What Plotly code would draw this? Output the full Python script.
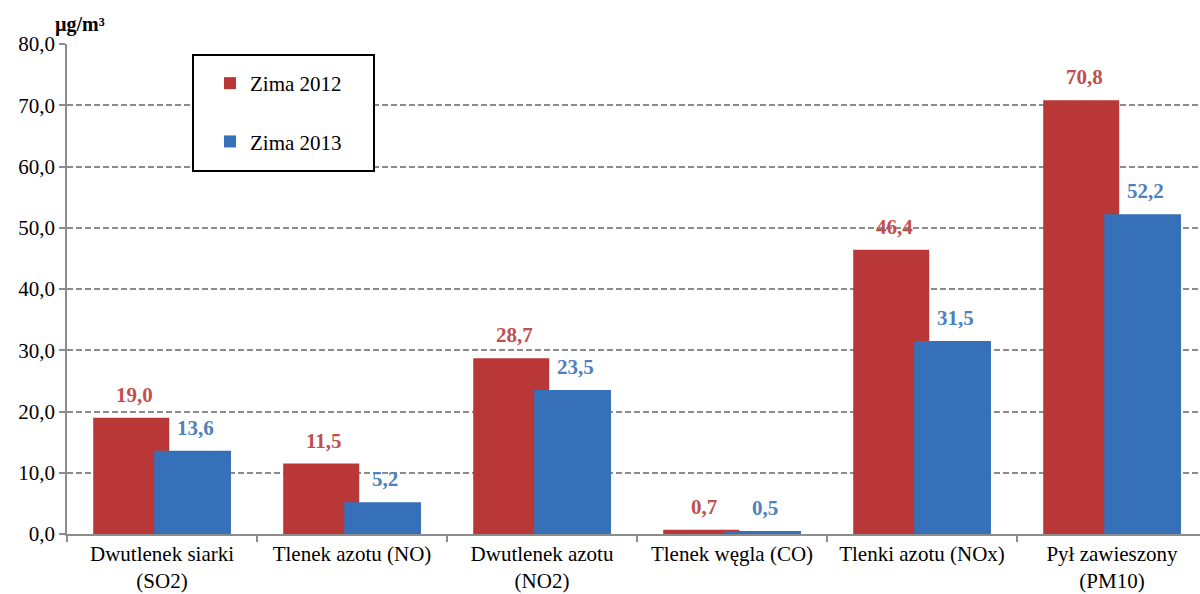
import plotly.graph_objects as go

# Average winter concentrations of pollutants, ug/m3
categories = [
    "Dwutlenek siarki<br>(SO2)",
    "Tlenek azotu (NO)",
    "Dwutlenek azotu<br>(NO2)",
    "Tlenek węgla (CO)",
    "Tlenki azotu (NOx)",
    "Pył zawieszony<br>(PM10)",
]
zima_2012 = [19.0, 11.5, 28.7, 0.7, 46.4, 70.8]
zima_2013 = [13.6, 5.2, 23.5, 0.5, 31.5, 52.2]
series_names = ["Zima 2012", "Zima 2013"]
y_ticks = [0, 10, 20, 30, 40, 50, 60, 70, 80]

FONT = "Liberation Serif"
RED_BAR = "#B93736"
BLUE_BAR = "#3570B8"
RED_TXT = "#C0504D"
BLUE_TXT = "#4F81BD"

W, H = 1200, 594
L, R, T, B = 67, 0, 44, 60

fig = go.Figure()
fig.add_trace(go.Bar(
    x=categories, y=zima_2012, name=series_names[0],
    marker=dict(color=RED_BAR, line=dict(width=0)),
    offset=-0.362, width=0.40, legendgroup="a",
))
fig.add_trace(go.Bar(
    x=categories, y=zima_2013, name=series_names[1],
    marker=dict(color=BLUE_BAR, line=dict(width=0)),
    offset=-0.041, width=0.404, legendgroup="b",
))

# value labels above each bar
annotations = []
for cat, v in zip(categories, zima_2012):
    annotations.append(dict(
        x=cat, y=v, xref="x", yref="y", text=f"<b>{v:.1f}</b>".replace(".", ","),
        showarrow=False, xanchor="center", yanchor="middle",
        xshift=-28, yshift=23, font=dict(family=FONT, size=21, color=RED_TXT),
    ))
for cat, v in zip(categories, zima_2013):
    annotations.append(dict(
        x=cat, y=v, xref="x", yref="y", text=f"<b>{v:.1f}</b>".replace(".", ","),
        showarrow=False, xanchor="center", yanchor="middle",
        xshift=33, yshift=23, font=dict(family=FONT, size=21, color=BLUE_TXT),
    ))

plot_w = W - L - R
plot_h = H - T - B


def px_x(p):
    return (p - L) / plot_w


def px_y(p):
    return (H - B - p) / plot_h


# unit label
annotations.append(dict(
    x=px_x(53), y=px_y(25), xref="paper", yref="paper",
    text="<b>\u00b5g/m\u00b3</b>", showarrow=False,
    xanchor="left", yanchor="middle",
    font=dict(family=FONT, size=20, color="black"),
))

# legend frame
shapes = [dict(
    type="rect", xref="paper", yref="paper",
    x0=px_x(193), x1=px_x(374), y0=px_y(171), y1=px_y(55),
    line=dict(color="black", width=2), fillcolor="white", layer="above",
)]

fig.update_layout(
    width=W, height=H,
    margin=dict(l=L, r=R, t=T, b=B),
    paper_bgcolor="white", plot_bgcolor="white",
    barmode="overlay",
    separators=",.",
    showlegend=True,
    legend=dict(
        x=px_x(210), y=px_y(63), xanchor="left", yanchor="top",
        font=dict(family=FONT, size=21, color="black"),
        tracegroupgap=28,
    ),
    xaxis=dict(
        type="category",
        range=[-0.5, 5.5 - 7 / 190],
        showline=True, linecolor="#8C8C8C", linewidth=1.5,
        ticks="outside", tickson="boundaries", ticklen=6,
        tickcolor="#8C8C8C", tickwidth=1.5,
        showgrid=False, zeroline=False,
        tickfont=dict(family=FONT, size=21, color="black"),
    ),
    yaxis=dict(
        range=[0, 80], tickvals=y_ticks, tickformat=".1f",
        showline=True, linecolor="#8C8C8C", linewidth=1.5,
        ticks="outside", ticklen=6, tickcolor="#8C8C8C", tickwidth=1.5,
        showgrid=True, gridcolor="#8C8C8C", gridwidth=1.5, griddash="6px,3px",
        zeroline=False,
        tickfont=dict(family=FONT, size=21, color="black"),
    ),
    annotations=annotations,
    shapes=shapes,
)

fig.write_html("out.html")
